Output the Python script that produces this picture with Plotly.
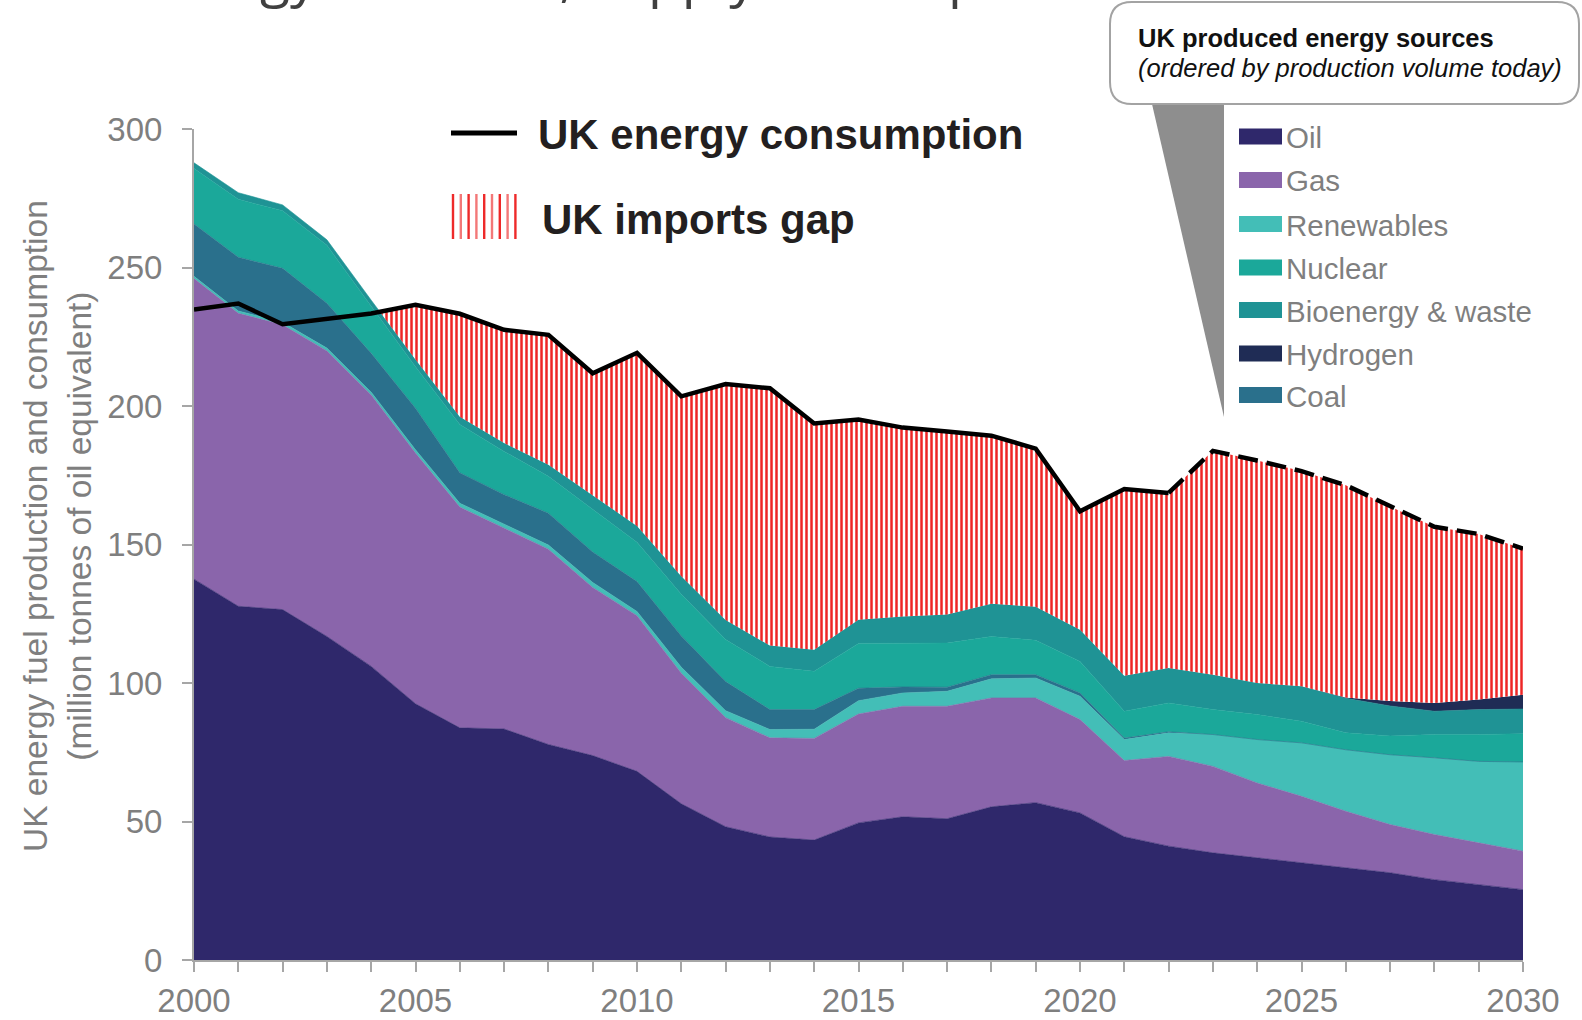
import plotly.graph_objects as go

# ---------------- data (Mtoe) ----------------
years = list(range(2000, 2031))
oil = [137.5, 127.7, 126.5, 116.8, 106.0, 92.5, 83.8, 83.4, 77.8, 73.8, 68.1, 56.4, 48.1, 44.4, 43.3,
       49.5, 51.7, 51.0, 55.3, 56.8, 53.1, 44.5, 41.1, 38.7, 36.9, 35.1, 33.3, 31.5, 29.0, 27.2, 25.4]
gas = [108.5, 105.8, 102.8, 103.1, 98.0, 90.5, 79.7, 72.5, 70.5, 60.7, 56.2, 47.1, 39.4, 35.8, 36.7,
       39.3, 39.9, 40.6, 39.3, 37.8, 33.7, 27.5, 32.4, 31.2, 27.0, 24.0, 20.4, 17.4, 16.3, 15.1, 13.9]
renewables = [0.8, 0.8, 0.9, 1.0, 1.0, 1.2, 1.4, 1.5, 1.5, 1.8, 1.5, 2.2, 2.5, 3.0, 3.3,
              4.8, 4.8, 5.4, 6.9, 7.2, 8.4, 7.6, 8.5, 11.5, 15.7, 19.3, 22.2, 25.2, 27.7, 29.4, 32.2]
coal = [18.9, 19.4, 19.5, 16.2, 14.0, 15.0, 11.0, 10.6, 11.5, 11.0, 10.8, 11.3, 10.5, 7.2, 7.1,
        4.5, 2.2, 1.5, 1.5, 1.2, 1.2, 0.5, 0.4, 0, 0, 0, 0, 0, 0, 0, 0]
nuclear = [20.0, 20.9, 20.8, 20.9, 17.0, 15.0, 17.4, 15.6, 13.3, 15.5, 14.2, 15.0, 15.2, 15.6, 13.8,
           16.2, 15.8, 15.9, 13.8, 12.4, 11.4, 9.7, 10.4, 9.0, 9.0, 7.8, 6.1, 6.8, 8.4, 9.7, 10.2]
bioenergy = [2.1, 2.4, 2.1, 2.0, 2.2, 2.6, 2.8, 3.0, 4.2, 5.0, 5.9, 6.5, 7.0, 7.5, 7.8,
             8.5, 9.6, 10.3, 11.8, 12.1, 11.4, 12.8, 12.6, 12.6, 11.4, 12.6, 12.5, 10.8, 8.4, 9.0, 8.9]
hydrogen = [0] * 26 + [0.3, 1.8, 3.0, 3.6, 5.2]
consumption = [234.8, 237.0, 229.5, 231.6, 233.4, 236.5, 233.3, 227.5, 225.7, 211.8, 219.2, 203.5,
               207.9, 206.4, 193.7, 195.1, 192.2, 190.8, 189.3, 184.6, 162.0, 170.0, 168.6, 183.8,
               180.3, 176.5, 171.4, 163.7, 156.4, 153.8, 148.5]
last_actual_year = 2022

# stacking order (bottom -> top) and legend order
stack_names = ["Oil", "Gas", "Renewables", "Coal", "Nuclear", "Bioenergy & waste", "Hydrogen"]
legend_names = ["Oil", "Gas", "Renewables", "Nuclear", "Bioenergy & waste", "Hydrogen", "Coal"]
series = {"Oil": oil, "Gas": gas, "Renewables": renewables, "Coal": coal,
          "Nuclear": nuclear, "Bioenergy & waste": bioenergy, "Hydrogen": hydrogen}
colors = {"Oil": "#2F286B", "Gas": "#8A65AB", "Renewables": "#43BEB7", "Coal": "#2A708C",
          "Nuclear": "#1BA89A", "Bioenergy & waste": "#1F9395", "Hydrogen": "#1F2C55"}
x_tick_labels = [str(y) if y % 5 == 0 else "" for y in years]

# ---------------- layout geometry ----------------
W, H = 1582, 1020
ML, MR, MT, MB = 194, 59, 129, 60
PW, PH = W - ML - MR, H - MT - MB


def px(x):
    return (x - ML) / PW


def py(y):
    return (H - MB - y) / PH


FONT = "Liberation Sans, Arial, sans-serif"
GREY = "#7F7F7F"

fig = go.Figure()

# stacked production areas
for name in stack_names:
    fig.add_trace(go.Scatter(
        x=years, y=series[name], name=name, stackgroup="prod", mode="lines",
        line=dict(width=0 if name == "Hydrogen" else 0.6, color=colors[name]),
        fillcolor=colors[name], showlegend=False, hoverinfo="skip"))

# imports gap (consumption above total production)
top = [sum(series[n][i] for n in stack_names) for i in range(len(years))]
gx, gbase, gupper = [], [], []
for i, yr in enumerate(years):
    d = consumption[i] - top[i]
    if i > 0:
        dp = consumption[i - 1] - top[i - 1]
        if d * dp < 0:
            t = dp / (dp - d)
            xc = years[i - 1] + t
            vc = top[i - 1] + t * (top[i] - top[i - 1])
            gx.append(xc); gbase.append(vc); gupper.append(vc)
    if d >= 0:
        gx.append(yr); gbase.append(top[i]); gupper.append(consumption[i])

fig.add_trace(go.Scatter(x=gx, y=gbase, mode="lines", line=dict(width=0),
                         showlegend=False, hoverinfo="skip"))
fig.add_trace(go.Scatter(
    x=gx, y=gupper, mode="lines", line=dict(width=0), fill="tonexty",
    fillcolor="white",
    fillpattern=dict(shape="|", fgcolor="#EE2626", bgcolor="#FFFFFF", fgopacity=1,
                     size=5, solidity=0.5),
    name="UK imports gap", showlegend=False, hoverinfo="skip"))

# consumption line: actual (solid) and projection (dashed)
k = years.index(last_actual_year)
fig.add_trace(go.Scatter(x=years[:k + 1], y=consumption[:k + 1], mode="lines",
                         line=dict(color="black", width=4.5),
                         name="UK energy consumption", showlegend=False))
fig.add_trace(go.Scatter(x=years[k:], y=consumption[k:], mode="lines",
                         line=dict(color="black", width=4.5, dash="20px,9px"),
                         showlegend=False))

shapes = []
annotations = []

# ----- left legend -----
shapes.append(dict(type="line", xref="paper", yref="paper", x0=px(451), x1=px(517),
                   y0=py(133), y1=py(133), line=dict(color="black", width=5)))
annotations.append(dict(text="<b>UK energy consumption</b>", x=px(536), y=py(134), xref="paper",
                        yref="paper", xanchor="left", yanchor="middle", showarrow=False,
                        font=dict(family=FONT, size=42, color="#231F20")))
for j in range(9):
    xs = 453 + j * 7.8
    shapes.append(dict(type="line", xref="paper", yref="paper", x0=px(xs), x1=px(xs),
                       y0=py(194), y1=py(239),
                       line=dict(color="#EE2A2A" if j % 2 == 0 else "#F37878", width=2.4)))
annotations.append(dict(text="<b>UK imports gap</b>", x=px(540), y=py(219), xref="paper",
                        yref="paper", xanchor="left", yanchor="middle", showarrow=False,
                        font=dict(family=FONT, size=42, color="#231F20")))

# ----- callout box (top right) -----
shapes.append(dict(type="path", xref="paper", yref="paper", layer="above",
                   path=f"M {px(1152)},{py(104)} L {px(1224)},{py(104)} L {px(1224)},{py(417)} Z",
                   fillcolor="#8E8E8E", line=dict(width=0)))
bx0, bx1, by0, by1, r = 1110, 1579, 2, 104, 22
p = (f"M {px(bx0 + r)},{py(by0)} L {px(bx1 - r)},{py(by0)} "
     f"Q {px(bx1)},{py(by0)} {px(bx1)},{py(by0 + r)} L {px(bx1)},{py(by1 - r)} "
     f"Q {px(bx1)},{py(by1)} {px(bx1 - r)},{py(by1)} L {px(bx0 + r)},{py(by1)} "
     f"Q {px(bx0)},{py(by1)} {px(bx0)},{py(by1 - r)} L {px(bx0)},{py(by0 + r)} "
     f"Q {px(bx0)},{py(by0)} {px(bx0 + r)},{py(by0)} Z")
shapes.append(dict(type="path", xref="paper", yref="paper", layer="above", path=p,
                   fillcolor="white", line=dict(color="#A3A3A3", width=2)))
annotations.append(dict(text="<b>UK produced energy sources</b>", x=px(1136), y=py(38),
                        xref="paper", yref="paper", xanchor="left", yanchor="middle",
                        showarrow=False, font=dict(family=FONT, size=25.5, color="#111111")))
annotations.append(dict(text="<i>(ordered by production volume today)</i>", x=px(1136), y=py(68),
                        xref="paper", yref="paper", xanchor="left", yanchor="middle",
                        showarrow=False, font=dict(family=FONT, size=25.5, color="#111111")))

# source legend
row_y = [136.5, 180, 224, 267.5, 310, 353.5, 395]
for name, ry in zip(legend_names, row_y):
    shapes.append(dict(type="rect", xref="paper", yref="paper", x0=px(1239), x1=px(1282),
                       y0=py(ry - 8), y1=py(ry + 8), fillcolor=colors[name], line=dict(width=0)))
    annotations.append(dict(text=name, x=px(1284), y=py(ry + 1), xref="paper", yref="paper",
                            xanchor="left", yanchor="middle", showarrow=False,
                            font=dict(family=FONT, size=29.5, color=GREY)))

# y-axis title
annotations.append(dict(text="UK energy fuel production and consumption<br>(million tonnes of oil equivalent)",
                        x=px(57), y=py(526), xref="paper", yref="paper", textangle=-90,
                        xanchor="center", yanchor="middle", showarrow=False,
                        font=dict(family=FONT, size=33.5, color=GREY)))

# page title (mostly cropped at top edge, as in the source slide)
annotations.append(dict(text="UK energy: demand, supply and imports", x=px(52), y=py(14),
                        xref="paper", yref="paper", xanchor="left", yanchor="bottom",
                        showarrow=False, font=dict(family="Open Sans, sans-serif", size=55,
                                                   color="#404040")))

fig.update_layout(
    width=W, height=H, margin=dict(l=ML, r=MR, t=MT, b=MB, autoexpand=False),
    paper_bgcolor="white", plot_bgcolor="white",
    shapes=shapes, annotations=annotations, showlegend=False,
    xaxis=dict(range=[2000, 2030], tickmode="array", tickvals=years, ticktext=x_tick_labels,
               ticks="outside", ticklen=10, tickwidth=1.5, tickcolor="#A6A6A6", automargin=False,
               showline=True, linecolor="#A6A6A6", linewidth=2, showgrid=False, zeroline=False,
               tickfont=dict(family=FONT, size=33, color=GREY), ticklabelstandoff=0),
    yaxis=dict(range=[0, 300], tickmode="array", tickvals=[0, 50, 100, 150, 200, 250, 300],
               ticks="outside", ticklen=10, tickwidth=1.5, tickcolor="#A6A6A6", automargin=False,
               showline=True, linecolor="#A6A6A6", linewidth=2, showgrid=False, zeroline=False,
               tickfont=dict(family=FONT, size=33, color=GREY), ticklabelstandoff=13),
)

fig.write_html("out.html", config={"displayModeBar": False},
               post_script="document.body.style.margin='0';document.body.style.overflow='hidden';")
